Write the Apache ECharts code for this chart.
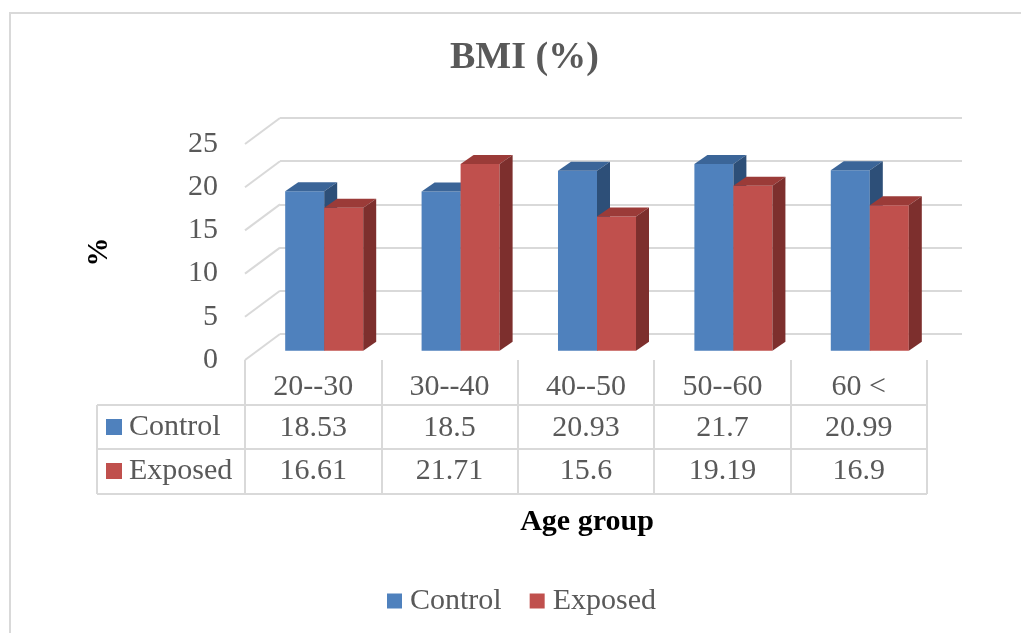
<!DOCTYPE html>
<html>
<head>
<meta charset="utf-8">
<script src="https://cdn.jsdelivr.net/npm/echarts@6/dist/echarts.min.js"></script>
<style>
  html, body { margin: 0; padding: 0; background: #fff; }
  #chart { width: 1021px; height: 633px; }
</style>
</head>
<body>
<div id="chart"></div>
<script>
// data
const categories = ["20--30", "30--40", "40--50", "50--60", "60 <"];
const seriesNames = ["Control", "Exposed"];
const controlValues = [18.53, 18.5, 20.93, 21.7, 20.99];
const exposedValues = [16.61, 21.71, 15.6, 19.19, 16.9];
const yTicks = [0, 5, 10, 15, 20, 25];

const SERIF = "'Liberation Serif', 'Times New Roman', serif";
const GREY_TXT = "#595959";
const LINE = "#d9d9d9";
const FS = 30;

// front / top / side colours for each series
const faceColors = [
  { front: "#4f81bd", top: "#3b6598", side: "#2d4f78" },
  { front: "#c0504d", top: "#9b3b38", side: "#7d2f2d" },
];

const DX = 13, DY = 9; // depth of a bar

function barRender(idx) {
  const c = faceColors[idx];
  return function (params, api) {
    const cat = api.value(0);
    const val = api.value(1);
    const top = api.coord([cat, val]);
    const base = api.coord([cat, 0]);
    const band = api.size([1, 0])[0];
    const w = band * 0.286;
    const x0 = idx === 0 ? top[0] - w : top[0];
    const x1 = x0 + w;
    const yt = top[1], yb = base[1];
    return {
      type: "group",
      children: [
        { type: "rect", shape: { x: x0, y: yt, width: w, height: yb - yt }, style: { fill: c.front } },
        { type: "polygon", shape: { points: [[x0, yt], [x1, yt], [x1 + DX, yt - DY], [x0 + DX, yt - DY]] }, style: { fill: c.top } },
        { type: "polygon", shape: { points: [[x1, yt], [x1 + DX, yt - DY], [x1 + DX, yb - DY], [x1, yb]] }, style: { fill: c.side } },
      ],
    };
  };
}

// table rows under the axis
const tableLeft = 97, tableRight = 927;
const rowLines = [405, 449, 494];
const rowCenters = [427, 471];
const tableGraphics = [];
rowLines.forEach((y) => {
  tableGraphics.push({ type: "line", shape: { x1: tableLeft, y1: y, x2: tableRight, y2: y }, style: { stroke: LINE, lineWidth: 2 } });
});
tableGraphics.push({ type: "line", shape: { x1: tableLeft, y1: rowLines[0], x2: tableLeft, y2: rowLines[2] }, style: { stroke: LINE, lineWidth: 2 } });
seriesNames.forEach((name, i) => {
  tableGraphics.push({ type: "rect", shape: { x: 106, y: rowCenters[i] - 8, width: 16, height: 16 }, style: { fill: faceColors[i].front } });
  tableGraphics.push({
    type: "text", x: 129, y: rowCenters[i],
    style: { text: name, font: FS + "px " + SERIF, fill: GREY_TXT, verticalAlign: "middle" },
  });
});

const chart = echarts.init(document.getElementById("chart"));

chart.setOption({
  backgroundColor: "#fff",
  animation: false,
  title: {
    text: "BMI (%)",
    left: 445,
    top: 34,
    textStyle: { fontFamily: SERIF, fontSize: 38, fontWeight: "bold", color: GREY_TXT },
  },
  legend: {
    data: seriesNames,
    left: 387,
    top: 586,
    padding: 0,
    icon: "rect",
    itemWidth: 15,
    itemHeight: 15,
    itemGap: 28,
    textStyle: { fontFamily: SERIF, fontSize: FS, color: GREY_TXT, padding: [0, 0, 0, 3] },
  },
  grid: [
    // plane the bars stand on
    { left: 256, top: 135.7, width: 682, height: 215 },
    // back wall
    { left: 280, top: 118, width: 682, height: 216 },
    // front edge (labels + table)
    { left: 245, top: 144, width: 682, height: 216 },
  ],
  xAxis: [
    { gridIndex: 0, type: "category", data: categories, show: false },
    { gridIndex: 1, type: "value", min: 0, max: 1, show: false },
    {
      gridIndex: 2,
      type: "category",
      data: categories,
      axisLine: { show: false },
      axisTick: { show: true, length: 134, lineStyle: { color: LINE, width: 2 } },
      axisLabel: {
        interval: 0,
        margin: 7,
        formatter: (v, i) => `{h|${v}}\n{r1|${controlValues[i]}}\n{r2|${exposedValues[i]}}`,
        rich: {
          h: { fontFamily: SERIF, fontSize: FS, color: GREY_TXT, lineHeight: 41 },
          r1: { fontFamily: SERIF, fontSize: FS, color: GREY_TXT, lineHeight: 41 },
          r2: { fontFamily: SERIF, fontSize: FS, color: GREY_TXT, lineHeight: 44 },
        },
      },
    },
  ],
  yAxis: [
    { gridIndex: 0, type: "value", min: 0, max: 25, interval: 5, show: false },
    {
      gridIndex: 1, type: "value", min: 0, max: 25, interval: 5,
      axisLine: { show: false }, axisTick: { show: false }, axisLabel: { show: false },
      splitLine: { show: true, lineStyle: { color: LINE, width: 2 } },
    },
    {
      gridIndex: 2, type: "value", min: 0, max: 25, interval: 5,
      axisLine: { show: false }, axisTick: { show: false },
      splitLine: { show: false },
      axisLabel: { margin: 27, fontFamily: SERIF, fontSize: FS, color: GREY_TXT },
    },
  ],
  graphic: [
    { type: "rect", shape: { x: 10, y: 13, width: 1040, height: 660 }, style: { fill: "none", stroke: LINE, lineWidth: 2 } },
    {
      type: "text", x: 587, y: 522,
      style: { text: "Age group", font: "bold 30px " + SERIF, fill: "#000", align: "center", verticalAlign: "middle" },
    },
    {
      type: "text", x: 100, y: 252, rotation: Math.PI / 2,
      style: { text: "%", font: "bold 29px " + SERIF, fill: "#000", align: "center", verticalAlign: "middle" },
    },
    ...tableGraphics,
  ],
  series: [
    {
      // floor edges running from the wall to the front
      type: "custom",
      xAxisIndex: 1,
      yAxisIndex: 1,
      silent: true,
      data: yTicks.map((t) => [0, t]),
      renderItem: (params, api) => {
        const p = api.coord([api.value(0), api.value(1)]);
        return {
          type: "line",
          shape: { x1: p[0], y1: p[1], x2: p[0] - 35, y2: p[1] + 26 },
          style: { stroke: LINE, lineWidth: 2 },
        };
      },
    },
    {
      name: seriesNames[0],
      type: "custom",
      xAxisIndex: 0,
      yAxisIndex: 0,
      itemStyle: { color: faceColors[0].front },
      data: controlValues.map((v, i) => [i, v]),
      renderItem: barRender(0),
    },
    {
      name: seriesNames[1],
      type: "custom",
      xAxisIndex: 0,
      yAxisIndex: 0,
      itemStyle: { color: faceColors[1].front },
      data: exposedValues.map((v, i) => [i, v]),
      renderItem: barRender(1),
    },
  ],
});
</script>
</body>
</html>
